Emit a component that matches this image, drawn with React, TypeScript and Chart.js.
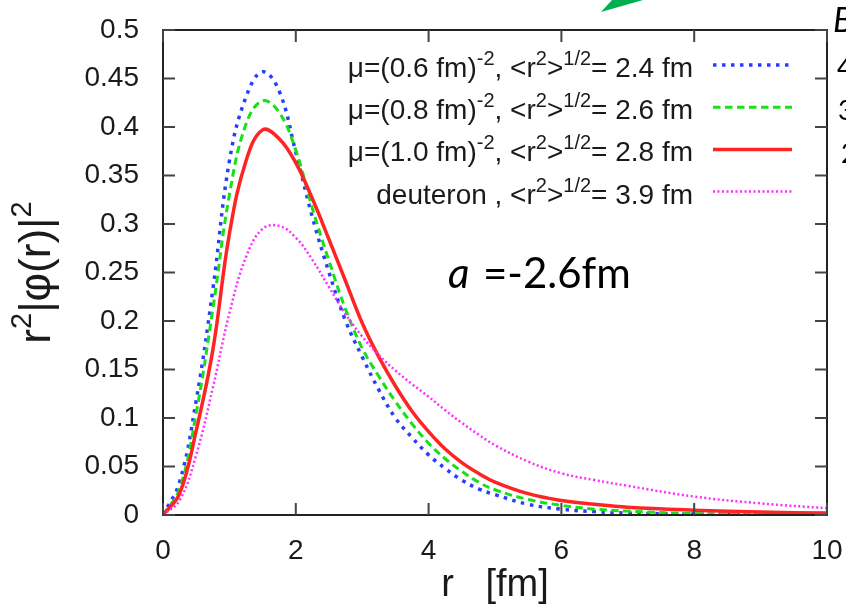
import { useEffect, useRef } from 'react';
import { Chart, registerables } from 'chart.js';

Chart.register(...registerables);

// ---- data ----
const rValues = [0, 0.25, 0.5, 0.75, 1.0, 1.25, 1.5, 1.75, 2.0, 2.25, 2.5, 2.75, 3.0, 3.25, 3.5, 3.75, 4.0, 4.25, 4.5, 4.75, 5.0, 5.5, 6.0, 6.5, 7.0, 8.0, 9.0, 10.0];
const mu06 = [0, 0.034, 0.118, 0.232, 0.365, 0.431, 0.457, 0.437, 0.374, 0.307, 0.25, 0.2, 0.163, 0.129, 0.1, 0.08, 0.062, 0.048, 0.036, 0.027, 0.021, 0.011, 0.006, 0.0035, 0.002, 0.001, 0.0003, 0.0001];
const mu08 = [0, 0.027, 0.105, 0.212, 0.33, 0.403, 0.427, 0.415, 0.376, 0.316, 0.262, 0.212, 0.172, 0.143, 0.117, 0.094, 0.074, 0.058, 0.045, 0.034, 0.026, 0.016, 0.01, 0.006, 0.004, 0.0015, 0.0006, 0.0002];
const mu10 = [0, 0.022, 0.087, 0.17, 0.29, 0.365, 0.397, 0.388, 0.363, 0.326, 0.284, 0.241, 0.198, 0.163, 0.133, 0.107, 0.086, 0.068, 0.054, 0.043, 0.034, 0.022, 0.015, 0.011, 0.008, 0.005, 0.003, 0.002];
const deuteron = [0, 0.015, 0.062, 0.131, 0.208, 0.266, 0.295, 0.298, 0.286, 0.263, 0.235, 0.207, 0.184, 0.165, 0.149, 0.135, 0.122, 0.108, 0.095, 0.083, 0.072, 0.055, 0.043, 0.036, 0.03, 0.019, 0.012, 0.007];

const muLabels = ['0.6', '0.8', '1.0'];
const rmsRadii = ['2.4', '2.6', '2.8', '3.9'];
const xTickValues = [0, 2, 4, 6, 8, 10];
const yTickValues = [0, 0.05, 0.1, 0.15, 0.2, 0.25, 0.3, 0.35, 0.4, 0.45, 0.5];
const xTitle = 'r   [fm]';
const annotationText = '=-2.6fm';
const sideTexts = ['4', '3', '2'];

const seriesValues = [mu06, mu08, mu10, deuteron];
const seriesColors = ['#2a3cff', '#18e018', '#ff2424', '#ff2cff'];
const seriesDash = [[3.5, 5.5], [7.5, 4.5], [], [2, 2.5]];
const seriesWidth = [3.5, 3, 3.5, 2.5];

type Seg = { t: string; sup?: boolean };

function legendSegments(i: number): Seg[] {
  const head: Seg[] = i < muLabels.length
    ? [{ t: 'μ=(' + muLabels[i] + ' fm)' }, { t: '-2', sup: true }, { t: ', <r' }]
    : [{ t: 'deuteron , <r' }];
  return [...head, { t: '2', sup: true }, { t: '>' }, { t: '1/2', sup: true }, { t: '= ' + rmsRadii[i] + ' fm' }];
}

const FONT = '"Liberation Sans", Arial, sans-serif';

const decorPlugin = {
  id: 'decor',
  afterDatasetsDraw(chart: any) {
    const { ctx, chartArea, scales } = chart;
    const { left, right, top, bottom } = chartArea;
    ctx.save();
    // frame
    ctx.strokeStyle = '#222';
    ctx.lineWidth = 2;
    ctx.setLineDash([]);
    ctx.strokeRect(left, top, right - left, bottom - top);
    // inward ticks
    ctx.strokeStyle = '#444';
    const tl = 12;
    scales.x.ticks.forEach((t: any) => {
      const px = scales.x.getPixelForValue(t.value);
      ctx.beginPath();
      ctx.moveTo(px, bottom); ctx.lineTo(px, bottom - tl);
      ctx.moveTo(px, top); ctx.lineTo(px, top + tl);
      ctx.stroke();
    });
    scales.y.ticks.forEach((t: any) => {
      const py = scales.y.getPixelForValue(t.value);
      ctx.beginPath();
      ctx.moveTo(left, py); ctx.lineTo(left + tl, py);
      ctx.moveTo(right, py); ctx.lineTo(right - tl, py);
      ctx.stroke();
    });

    // legend
    const rightX = 693;
    const baseline0 = 77;
    const step = 42.2;
    ctx.fillStyle = '#1a1a1a';
    ctx.textBaseline = 'alphabetic';
    ctx.textAlign = 'left';
    chart.data.datasets.forEach((ds: any, i: number) => {
      const bl = baseline0 + i * step;
      const segs = legendSegments(i);
      const mainFont = '28px ' + FONT;
      const supFont = '20px ' + FONT;
      let w = 0;
      segs.forEach((s) => { ctx.font = s.sup ? supFont : mainFont; w += ctx.measureText(s.t).width; });
      let x = rightX - w;
      segs.forEach((s) => {
        ctx.font = s.sup ? supFont : mainFont;
        ctx.fillText(s.t, x, s.sup ? bl - 12 : bl);
        x += ctx.measureText(s.t).width;
      });
      ctx.beginPath();
      ctx.strokeStyle = ds.borderColor;
      ctx.lineWidth = ds.borderWidth;
      ctx.lineCap = 'butt';
      ctx.setLineDash(ds.borderDash || []);
      ctx.moveTo(713, bl - 12);
      ctx.lineTo(792, bl - 12);
      ctx.stroke();
    });
    ctx.setLineDash([]);

    // y axis title with superscripts
    ctx.save();
    ctx.translate(50, (top + bottom) / 2);
    ctx.rotate(-Math.PI / 2);
    const ySegs: Seg[] = [{ t: 'r' }, { t: '2', sup: true }, { t: '|φ(r)|' }, { t: '2', sup: true }];
    const yMain = '44px ' + FONT;
    const ySup = '29px ' + FONT;
    let yw = 0;
    ySegs.forEach((s) => { ctx.font = s.sup ? ySup : yMain; yw += ctx.measureText(s.t).width; });
    let yx = -yw / 2;
    ctx.fillStyle = '#1a1a1a';
    ySegs.forEach((s) => {
      ctx.font = s.sup ? ySup : yMain;
      ctx.fillText(s.t, yx, s.sup ? -19 : 0);
      yx += ctx.measureText(s.t).width;
    });
    ctx.restore();

    // annotation "a =-2.6fm"
    ctx.fillStyle = '#000';
    ctx.font = 'italic 42px Lato, "Open Sans", sans-serif';
    ctx.fillText('a', 448, 288);
    ctx.font = '42px Lato, "Open Sans", sans-serif';
    ctx.fillText(annotationText, 483, 288, 149);

    // cut-off neighbouring texts on the right edge
    ctx.font = 'italic 34px Lato, "Open Sans", sans-serif';
    ctx.fillText('B', 833, 32);
    ctx.font = '27px Lato, "Open Sans", sans-serif';
    const sx = [837, 838, 841];
    const sy = [77, 120, 163];
    sideTexts.forEach((t, i) => ctx.fillText(t, sx[i], sy[i]));

    // green arrow tip at top
    ctx.fillStyle = '#00b050';
    ctx.beginPath();
    ctx.moveTo(601, 12);
    ctx.lineTo(612, 0);
    ctx.lineTo(643, 0);
    ctx.closePath();
    ctx.fill();

    ctx.restore();
  },
};

export default function App() {
  const canvasRef = useRef<HTMLCanvasElement | null>(null);

  useEffect(() => {
    document.body.style.margin = '0';
    const canvas = canvasRef.current;
    if (!canvas) return;
    const datasets = seriesValues.map((vals, i) => ({
      label: rmsRadii[i],
      data: rValues.map((r, j) => ({ x: r, y: vals[j] })),
      borderColor: seriesColors[i],
      backgroundColor: seriesColors[i],
      borderDash: seriesDash[i],
      borderWidth: seriesWidth[i],
      borderCapStyle: 'butt' as const,
      pointRadius: 0,
      fill: false,
      tension: 0.4,
      order: seriesValues.length - i,
    }));
    const tickFont = { family: FONT, size: 28 };
    const chart = new Chart(canvas, {
      type: 'line',
      data: { datasets },
      plugins: [decorPlugin],
      options: {
        animation: false,
        responsive: false,
        maintainAspectRatio: false,
        events: [],
        layout: { padding: { top: 30, right: 19, left: 0, bottom: 0 } },
        plugins: { legend: { display: false }, tooltip: { enabled: false } },
        scales: {
          x: {
            type: 'linear',
            min: 0,
            max: 10,
            grid: { display: false },
            border: { display: false },
            afterBuildTicks: (s: any) => { s.ticks = xTickValues.map((v) => ({ value: v })); },
            afterFit: (s: any) => { s.height = 98; s.paddingLeft = 0; s.paddingRight = 0; },
            ticks: { font: tickFont, color: '#1a1a1a', padding: 11, maxRotation: 0, autoSkip: false, callback: (v: any) => String(v) },
            title: { display: true, text: xTitle, font: { family: FONT, size: 38 }, color: '#1a1a1a', padding: { top: 0, bottom: 5 } },
          },
          y: {
            type: 'linear',
            min: 0,
            max: 0.5,
            grid: { display: false },
            border: { display: false },
            afterBuildTicks: (s: any) => { s.ticks = yTickValues.map((v) => ({ value: v })); },
            afterFit: (s: any) => { s.width = 163; s.paddingTop = 0; s.paddingBottom = 0; },
            ticks: { font: tickFont, color: '#1a1a1a', padding: 16, autoSkip: false, callback: (v: any) => String(+Number(v).toFixed(2)) },
          },
        },
      },
    });
    return () => chart.destroy();
  }, []);

  return (
    <div style={{ position: 'fixed', left: 0, top: 0, width: 846, height: 613, background: '#fff' }}>
      <canvas ref={canvasRef} width={846} height={613} style={{ width: 846, height: 613 }} />
    </div>
  );
}
